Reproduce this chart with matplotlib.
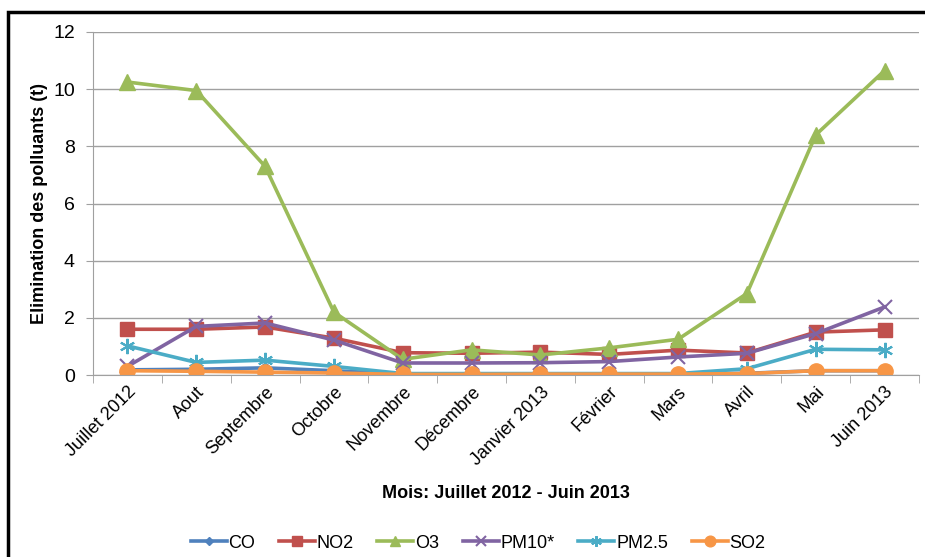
import matplotlib.pyplot as plt
from matplotlib.patches import Rectangle

plt.rcParams['font.family'] = ['Liberation Sans', 'DejaVu Sans']

mois = ['Juillet 2012', 'Aout', 'Septembre', 'Octobre', 'Novembre', 'Décembre',
        'Janvier 2013', 'Février', 'Mars', 'Avril', 'Mai', 'Juin 2013']

co = [0.18, 0.2, 0.25, 0.15, 0.03, 0.03, 0.04, 0.04, 0.04, 0.06, 0.15, 0.15]
no2 = [1.6, 1.6, 1.68, 1.29, 0.78, 0.76, 0.8, 0.72, 0.87, 0.77, 1.5, 1.58]
o3 = [10.25, 9.95, 7.3, 2.2, 0.55, 0.88, 0.7, 0.95, 1.25, 2.85, 8.4, 10.65]
pm10 = [0.3, 1.7, 1.82, 1.22, 0.42, 0.42, 0.43, 0.47, 0.63, 0.76, 1.45, 2.38]
pm25 = [1.02, 0.44, 0.52, 0.3, 0.05, 0.05, 0.05, 0.05, 0.05, 0.22, 0.9, 0.88]
so2 = [0.15, 0.13, 0.1, 0.07, 0.02, 0.02, 0.03, 0.03, 0.03, 0.05, 0.15, 0.15]

fig = plt.figure(figsize=(9.25, 5.57), dpi=100)
ax = fig.add_axes([93/925, 1 - 375/557, 826/925, 343/557])

x = range(len(mois))
lw = 2.6
ax.plot(x, co, color='#4F81BD', marker='D', ms=6, lw=lw, label='CO')
ax.plot(x, no2, color='#C0504D', marker='s', ms=10, lw=lw, label='NO2')
ax.plot(x, o3, color='#9BBB59', marker='^', ms=11, lw=lw, label='O3')
ax.plot(x, pm10, color='#8064A2', marker='x', ms=10, mew=1.5, lw=lw, label='PM10*')
ax.plot(x, pm25, color='#4BACC6', marker=(6, 2, 0), ms=11, mew=1.5, lw=lw, label='PM2.5')
ax.plot(x, so2, color='#F79646', marker='o', ms=11, lw=lw, label='SO2')

ax.set_xlim(-0.5, 11.5)
ax.set_ylim(0, 12)
ax.set_yticks(range(0, 13, 2))
ax.set_xticks(list(x))
ax.set_xticklabels(mois, rotation=45, ha='right', rotation_mode='anchor', fontsize=13)
ax.tick_params(axis='y', labelsize=14, length=5, pad=8, color='#A0A0A0')
ax.tick_params(axis='x', length=0, pad=6)
ax.set_xticks([i - 0.5 for i in range(13)], minor=True)
ax.tick_params(axis='x', which='minor', length=6, color='#A0A0A0')
ax.grid(axis='y', color='#A0A0A0', lw=1)
ax.set_axisbelow(True)
for s in ['top', 'right']:
    ax.spines[s].set_visible(False)
ax.spines['left'].set_color('#A0A0A0')
ax.spines['bottom'].set_color('#A0A0A0')

ax.set_ylabel('Elimination des polluants (t)', fontsize=13, fontweight='bold', labelpad=4)
fig.text(506/925, 1 - 493/557, 'Mois: Juillet 2012 - Juin 2013', fontsize=13,
         fontweight='bold', ha='center', va='center')

fig.legend(loc='center', bbox_to_anchor=(478/925, 1 - 543/557), ncol=6, frameon=False,
           fontsize=13, handlelength=2.0, handletextpad=0.1, columnspacing=1.3,
           markerscale=0.7)

fig.patches.append(Rectangle((8/925, -0.05), 1.0, 1 - 12/557 + 0.05,
                             transform=fig.transFigure, fill=False, ec='black', lw=2.5))

fig.savefig('out.png', dpi=100)
